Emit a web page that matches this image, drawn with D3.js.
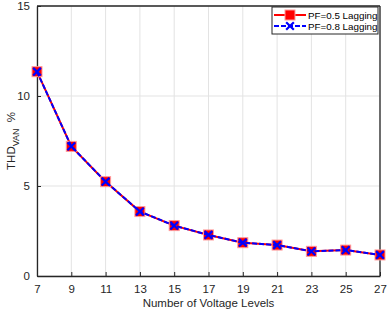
<!DOCTYPE html>
<html>
<head>
<meta charset="utf-8">
<script src="https://cdn.jsdelivr.net/npm/d3@7"></script>
<style>
  body { margin: 0; background: #fff; }
  text { font-family: Arial, "Liberation Sans", sans-serif; }
</style>
</head>
<body>
<svg id="chart" width="387" height="310"></svg>
<script>
// data
var levels = [7, 9, 11, 13, 15, 17, 19, 21, 23, 25, 27];
var thdPf05 = [11.35, 7.2, 5.24, 3.58, 2.8, 2.28, 1.85, 1.72, 1.37, 1.44, 1.17];
var thdPf08 = [11.35, 7.2, 5.24, 3.58, 2.8, 2.28, 1.85, 1.72, 1.37, 1.44, 1.17];
var yTicks = [0, 5, 10, 15];
var seriesNames = ['PF=0.5 Lagging', 'PF=0.8 Lagging'];

var svg = d3.select('#chart');
var plotL = 37, plotR = 380, plotT = 6, plotB = 276;

var x = d3.scaleLinear().domain([7, 27]).range([plotL, plotR]);
var y = d3.scaleLinear().domain([0, 15]).range([plotB, plotT]);

// grid
var grid = svg.append('g');
grid.selectAll('.gx').data(levels).enter().append('line')
  .attr('x1', function(d) { return x(d); }).attr('x2', function(d) { return x(d); })
  .attr('y1', plotT).attr('y2', plotB)
  .attr('stroke', '#e3e3e3').attr('stroke-width', 1);
grid.selectAll('.gy').data(yTicks).enter().append('line')
  .attr('x1', plotL).attr('x2', plotR)
  .attr('y1', function(d) { return y(d); }).attr('y2', function(d) { return y(d); })
  .attr('stroke', '#e3e3e3').attr('stroke-width', 1);

// axes
var xAxis = d3.axisBottom(x).tickValues(levels).tickSizeInner(-4).tickSizeOuter(0).tickPadding(9);
var yAxis = d3.axisLeft(y).tickValues(yTicks).tickSizeInner(-4).tickSizeOuter(0).tickPadding(7);

var gx = svg.append('g').attr('transform', 'translate(0,' + plotB + ')').call(xAxis);
var gy = svg.append('g').attr('transform', 'translate(' + plotL + ',0)').call(yAxis);
[gx, gy].forEach(function(g) {
  g.select('.domain').attr('stroke', '#262626').attr('stroke-width', 1.3);
  g.selectAll('.tick line').attr('stroke', '#262626');
  g.selectAll('.tick text').attr('fill', '#262626').style('font-size', '11.5px');
});

// box top and right
svg.append('line').attr('x1', plotL).attr('x2', plotR).attr('y1', plotT).attr('y2', plotT)
  .attr('stroke', '#262626').attr('stroke-width', 1.3);
svg.append('line').attr('x1', plotR).attr('x2', plotR).attr('y1', plotT).attr('y2', plotB)
  .attr('stroke', '#262626').attr('stroke-width', 1.3);

// series 1: red solid with squares
var line = d3.line().x(function(d, i) { return x(levels[i]); }).y(function(d) { return y(d); });
svg.append('path').datum(thdPf05).attr('d', line)
  .attr('fill', 'none').attr('stroke', '#ff0000').attr('stroke-width', 2);
svg.selectAll('.sq').data(thdPf05).enter().append('rect')
  .attr('x', function(d, i) { return x(levels[i]) - 5; })
  .attr('y', function(d) { return y(d) - 5; })
  .attr('width', 10).attr('height', 10)
  .attr('fill', '#ff0000').attr('stroke', '#ff9a9a').attr('stroke-width', 1);

// series 2: blue dashed with crosses
svg.append('path').datum(thdPf08).attr('d', line)
  .attr('fill', 'none').attr('stroke', '#0000ff').attr('stroke-width', 2)
  .attr('stroke-dasharray', '5,2');
var cross = d3.symbol().type(d3.symbolX).size(40);
svg.selectAll('.cx').data(thdPf08).enter().append('path')
  .attr('d', cross)
  .attr('transform', function(d, i) { return 'translate(' + x(levels[i]) + ',' + y(d) + ')'; })
  .attr('fill', 'none').attr('stroke', '#0000ff').attr('stroke-width', 2.2);

// legend
var lg = svg.append('g');
lg.append('rect').attr('x', 272).attr('y', 7).attr('width', 106).attr('height', 27)
  .attr('fill', '#fff').attr('stroke', '#262626').attr('stroke-width', 1);
lg.append('line').attr('x1', 274).attr('x2', 306).attr('y1', 15).attr('y2', 15)
  .attr('stroke', '#ff0000').attr('stroke-width', 2);
lg.append('rect').attr('x', 285).attr('y', 10).attr('width', 10).attr('height', 10)
  .attr('fill', '#ff0000').attr('stroke', '#ff9a9a');
lg.append('line').attr('x1', 274).attr('x2', 306).attr('y1', 26).attr('y2', 26)
  .attr('stroke', '#0000ff').attr('stroke-width', 2).attr('stroke-dasharray', '5,2');
lg.append('path').attr('d', cross).attr('transform', 'translate(290,26)')
  .attr('fill', 'none').attr('stroke', '#0000ff').attr('stroke-width', 2.2);
lg.selectAll('.lt').data(seriesNames).enter().append('text')
  .attr('x', 308).attr('y', function(d, i) { return 19 + i * 11; })
  .style('font-size', '9.8px').attr('fill', '#000')
  .text(function(d) { return d; });

// axis titles
svg.append('text').attr('x', (plotL + plotR) / 2).attr('y', 307)
  .attr('text-anchor', 'middle').style('font-size', '11.5px').attr('fill', '#262626')
  .text('Number of Voltage Levels');

var yl = svg.append('text').attr('transform', 'translate(15,141) rotate(-90)')
  .attr('text-anchor', 'middle').style('font-size', '11.5px').attr('fill', '#262626');
yl.append('tspan').text('THD');
yl.append('tspan').attr('dy', 4).style('font-size', '9px').text('VAN');
yl.append('tspan').attr('dy', -4).attr('dx', 3).text(' %');
</script>
</body>
</html>
